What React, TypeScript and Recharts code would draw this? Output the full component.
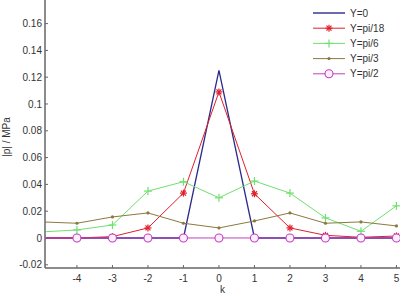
import { LineChart, Line, XAxis, YAxis } from "recharts";

// k values (k=-5 sits just outside the visible x range, as in the original)
const ks = [-5, -4, -3, -2, -1, 0, 1, 2, 3, 4, 5];

const y0 = [0, 0, 0, 0, 0, 0.125, 0, 0, 0, 0, 0];
const yPi18 = [0, 0, 0.001, 0.0075, 0.0335, 0.109, 0.033, 0.0075, 0.002, 0.0005, 0.0015];
const yPi6 = [0.0045, 0.006, 0.0097, 0.035, 0.042, 0.03, 0.0425, 0.0335, 0.015, 0.005, 0.024];
const yPi3 = [0.012, 0.011, 0.0157, 0.0187, 0.011, 0.0075, 0.0127, 0.0187, 0.011, 0.012, 0.009];
const yPi2 = [0, 0, 0, 0, 0, 0, 0, 0, 0, 0, 0];

const yTicks = [-0.02, 0, 0.02, 0.04, 0.06, 0.08, 0.1, 0.12, 0.14, 0.16];
const xTicks = [-4, -3, -2, -1, 0, 1, 2, 3, 4, 5];

const data = ks.map((k, i) => ({
  k,
  a: y0[i],
  b: yPi18[i],
  c: yPi6[i],
  d: yPi3[i],
  e: yPi2[i],
}));

const SERIES = [
  { key: "a", name: "Y=0", color: "#2a2a8c", marker: "none" },
  { key: "b", name: "Y=pi/18", color: "#e0202a", marker: "star" },
  { key: "c", name: "Y=pi/6", color: "#6fe06f", marker: "plus" },
  { key: "d", name: "Y=pi/3", color: "#8a7a3e", marker: "dot" },
  { key: "e", name: "Y=pi/2", color: "#c040c0", marker: "circle" },
];

const FONT = "Liberation Sans, Arial, sans-serif";

function Marker({ cx, cy, type, color }: any) {
  if (cx == null || cy == null) return null;
  if (type === "star") {
    return (
      <g stroke={color} strokeWidth={1.2}>
        <line x1={cx - 3.5} y1={cy} x2={cx + 3.5} y2={cy} />
        <line x1={cx} y1={cy - 3.5} x2={cx} y2={cy + 3.5} />
        <line x1={cx - 2.5} y1={cy - 2.5} x2={cx + 2.5} y2={cy + 2.5} />
        <line x1={cx - 2.5} y1={cy + 2.5} x2={cx + 2.5} y2={cy - 2.5} />
      </g>
    );
  }
  if (type === "plus") {
    return (
      <g stroke={color} strokeWidth={1.2}>
        <line x1={cx - 4} y1={cy} x2={cx + 4} y2={cy} />
        <line x1={cx} y1={cy - 4} x2={cx} y2={cy + 4} />
      </g>
    );
  }
  if (type === "dot") return <circle cx={cx} cy={cy} r={1.6} fill={color} stroke="none" />;
  if (type === "circle")
    return <circle cx={cx} cy={cy} r={4} fill="#fdf0fd" stroke={color} strokeWidth={1.1} />;
  return null;
}

function LegendBox() {
  return (
    <svg width={90} height={78} style={{ position: "absolute", left: 310, top: 5 }}>
      {SERIES.map((s, i) => {
        const y = 8 + i * 15.2;
        return (
          <g key={s.key}>
            <line x1={3} y1={y} x2={35} y2={y} stroke={s.color} strokeWidth={s.key === "a" ? 1.4 : 1} />
            <Marker cx={19} cy={y} type={s.marker} color={s.color} />
            <text x={40} y={y + 3.5} fontSize={10} fill="#333" fontFamily={FONT}>
              {s.name}
            </text>
          </g>
        );
      })}
    </svg>
  );
}

const fmt = (v: number) => String(+v.toFixed(2));

export default function App() {
  return (
    <div style={{ position: "absolute", left: 0, top: 0, width: 402, height: 296, background: "#fff" }}>
      <LineChart
        width={402}
        height={296}
        data={data}
        margin={{ top: 0, right: 2, bottom: 0, left: 0 }}
        style={{ fontFamily: FONT }}
      >
        <XAxis
          dataKey="k"
          type="number"
          domain={[-4.9, 5.1]}
          allowDataOverflow
          ticks={xTicks}
          interval={0}
          height={28}
          tickSize={-3}
          tickMargin={10}
          tick={{ fontSize: 10, fill: "#333" }}
          stroke="#666"
          strokeWidth={1.5}
          tickLine={{ stroke: "#666", strokeWidth: 1 }}
          label={{ value: "k", position: "insideBottom", offset: 0, fontSize: 10, fill: "#333", dy: -3 }}
        />
        <YAxis
          type="number"
          domain={[-0.0224, 0.1776]}
          allowDataOverflow
          ticks={yTicks}
          interval={0}
          width={45}
          tickSize={-3}
          tickMargin={6}
          tickFormatter={fmt}
          tick={{ fontSize: 10, fill: "#333" }}
          stroke="#666"
          strokeWidth={1.5}
          tickLine={{ stroke: "#666", strokeWidth: 1 }}
          label={{ value: "|p| / MPa", angle: -90, position: "insideLeft", offset: 0, fontSize: 10, fill: "#333", dx: 6, dy: 3, style: { textAnchor: "middle" } }}
        />
        {SERIES.map((s) => (
          <Line
            key={s.key}
            dataKey={s.key}
            name={s.name}
            type="linear"
            stroke={s.color}
            strokeWidth={s.key === "a" ? 1.3 : 1}
            isAnimationActive={false}
            dot={(p: any) => <Marker key={`${s.key}-${p.index}`} cx={p.cx} cy={p.cy} type={s.marker} color={s.color} />}
            activeDot={false}
          />
        ))}
      </LineChart>
      <LegendBox />
    </div>
  );
}
